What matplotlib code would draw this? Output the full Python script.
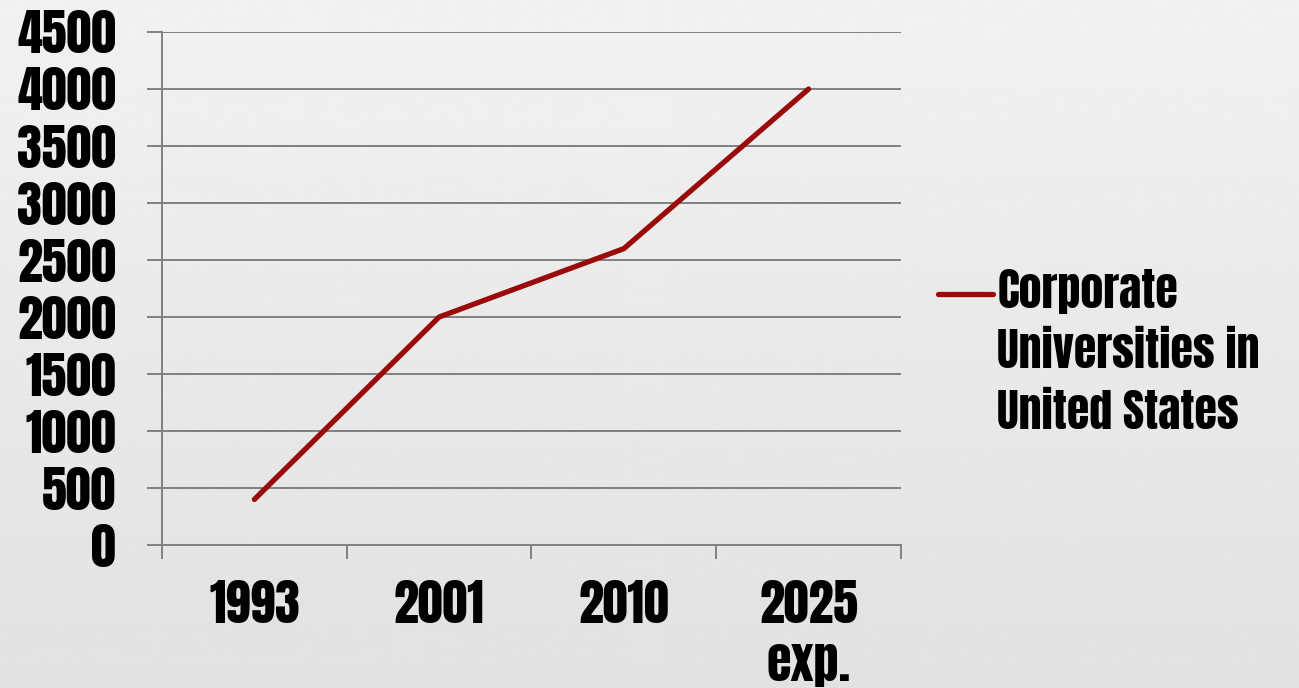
import numpy as np
import matplotlib.pyplot as plt
from matplotlib.legend_handler import HandlerLine2D

plt.rcParams['font.family'] = ['Anton', 'Oswald', 'IBM Plex Sans Condensed', 'DejaVu Sans']

years = ["1993", "2001", "2010", "2025\nexp."]
counts = [400, 2000, 2600, 4000]
series_name = "Corporate\nUniversities in\nUnited States"

FS = 36
LEG_FS = 33
LEG_SPACING = 1.4


class FirstLineHandler(HandlerLine2D):
    # put the legend line next to the first line of a multi-line label
    def create_artists(self, legend, orig_handle, xdescent, ydescent,
                       width, height, fontsize, trans):
        arts = super().create_artists(legend, orig_handle, xdescent, ydescent,
                                      width, height, fontsize, trans)
        for a in arts:
            a.set_ydata(np.asarray(a.get_ydata()) + 1.33 * fontsize)
        return arts


fig = plt.figure(figsize=(12.99, 6.88), dpi=100)

# light grey slide background, slightly darker towards the bottom
bg = fig.add_axes([0, 0, 1, 1], zorder=-10)
grad = np.linspace(0.945, 0.885, 256).reshape(-1, 1)
bg.imshow(grad, aspect='auto', cmap='gray', vmin=0, vmax=1, extent=[0, 1, 0, 1])
bg.axis('off')

ax = fig.add_axes([0.1247, 0.2078, 0.5689, 0.7457])
ax.set_facecolor('none')

x = np.arange(len(years))
ax.plot(x, counts, color='#9b0a0a', linewidth=3.8, solid_capstyle='round',
        label=series_name, zorder=3)

ax.set_ylim(0, 4500)
ax.set_yticks(np.arange(0, 4501, 500))
ax.set_xlim(-0.5, len(years) - 0.5)
ax.set_xticks(x)
ax.set_xticklabels(years)
ax.set_xticks(np.arange(-0.5, len(years)), minor=True)

ax.grid(axis='y', color='#808080', linewidth=1.4)
for s in ['top', 'right']:
    ax.spines[s].set_visible(False)
for s in ['left', 'bottom']:
    ax.spines[s].set_color('#808080')
    ax.spines[s].set_linewidth(1.4)

ax.tick_params(axis='y', length=11, width=1.4, color='#808080', pad=22, labelsize=FS)
ax.tick_params(axis='x', which='major', length=0, pad=25, labelsize=FS)
ax.tick_params(axis='x', which='minor', length=10, width=1.4, color='#808080')
for lbl in ax.get_xticklabels():
    lbl.set_linespacing(1.22)

leg = ax.legend(loc='upper left', bbox_to_anchor=(1.0, 0.61), frameon=False,
                fontsize=LEG_FS, handlelength=1.2, handletextpad=0.1,
                borderaxespad=0.4, handler_map={plt.Line2D: FirstLineHandler()})
for t in leg.get_texts():
    t.set_linespacing(LEG_SPACING)

fig.savefig("out.png", dpi=100)
